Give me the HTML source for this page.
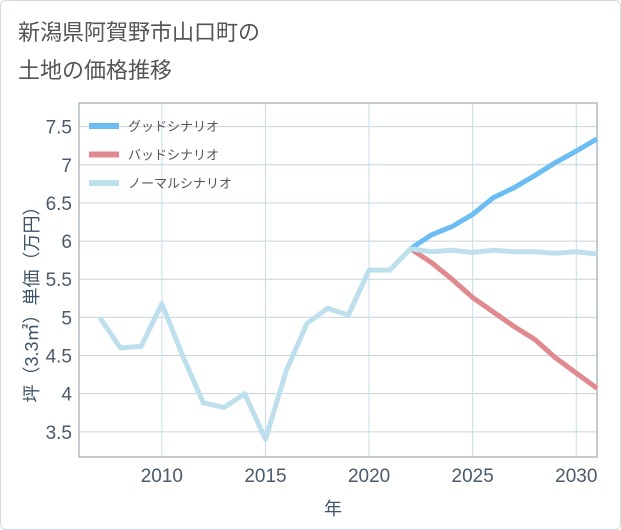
<!DOCTYPE html>
<html><head><meta charset="utf-8"><style>
body{margin:0;background:#fff;}
#card{position:absolute;left:0;top:0;width:619px;height:528px;border:1px solid #d5dbe0;border-radius:6px;background:#fff;}
#title{position:absolute;left:18px;top:14px;font:22px "Liberation Sans","Noto Sans CJK JP",sans-serif;color:#555;line-height:38px;}
svg text{font-family:"Liberation Sans","Noto Sans CJK JP",sans-serif;}
</style></head><body>
<div id="card"></div>
<div id="title">新潟県阿賀野市山口町の<br>土地の価格推移</div>
<svg id="chart" width="621" height="530" style="position:absolute;left:0;top:0"></svg>
<script>
const years=[2007,2008,2009,2010,2011,2012,2013,2014,2015,2016,2017,2018,2019,2020,2021,2022,2023,2024,2025,2026,2027,2028,2029,2030,2031];
const normalVals=[5.0,4.6,4.62,5.18,4.5,3.88,3.82,4.0,3.4,4.3,4.92,5.12,5.03,5.62,5.62,5.9,5.86,5.88,5.85,5.88,5.86,5.86,5.84,5.86,5.83];
const futureYears=[2022,2023,2024,2025,2026,2027,2028,2029,2030,2031];
const goodVals=[5.9,6.08,6.19,6.35,6.57,6.7,6.86,7.03,7.18,7.34];
const badVals=[5.9,5.72,5.5,5.26,5.07,4.88,4.71,4.47,4.27,4.07];
const yTicks=[3.5,4,4.5,5,5.5,6,6.5,7,7.5];
const xTicks=[2010,2015,2020,2025,2030];
const legendLabels=["グッドシナリオ","バッドシナリオ","ノーマルシナリオ"];
const L=79,R=597,T=103,B=457,X0=2006,X1=2031,Y0=3.17,Y1=7.81;
const sx=v=>L+(v-X0)/(X1-X0)*(R-L);
const sy=v=>B-(v-Y0)/(Y1-Y0)*(B-T);
const svg=document.getElementById('chart');const NS='http://www.w3.org/2000/svg';
function mk(tag,attrs,parent){const e=document.createElementNS(NS,tag);for(const k in attrs)e.setAttribute(k,attrs[k]);(parent||svg).appendChild(e);return e;}
for(const t of yTicks){
 const l=mk('line',{x1:L,x2:R,y1:sy(t),y2:sy(t),stroke:'#c8d4dc','stroke-width':1});
 
 
 const tx=mk('text',{x:72,y:sy(t)+7,'text-anchor':'end','font-size':19,fill:'#4a5a6a'});tx.textContent=t;
 
 
}
for(const t of xTicks){
 const l=mk('line',{x1:sx(t),x2:sx(t),y1:T,y2:B,stroke:'#c8dce8','stroke-width':1});
 
 
 const tx=mk('text',{x:sx(t),y:482,'text-anchor':'middle','font-size':19,fill:'#4a5a6a'});tx.textContent=t;
 
 
}
const frame=mk('rect',{x:L,y:T,width:R-L,height:B-T,fill:'none',stroke:'#8a9aa6','stroke-width':1});


function line(xs,ys,color,name){
 const p=mk('polyline',{points:xs.map((x,i)=>sx(x)+','+sy(ys[i])).join(' '),fill:'none',stroke:color,'stroke-width':5,'stroke-linejoin':'round'});
 
 
}
line(futureYears,goodVals,'#6bbdf4','good-scenario-line');
line(futureYears,badVals,'#e08a90','bad-scenario-line');
line(years,normalVals,'#bde0ec','normal-scenario-line');
const lc=['#6bbdf4','#e08a90','#bde0ec'];
legendLabels.forEach((s,i)=>{
 const y=126+i*28.5;
 const r=mk('rect',{x:89,y:y-3,width:30,height:6,fill:lc[i]});
 
 
 const tx=mk('text',{x:128,y:y+5,'font-size':13,fill:'#555'});tx.textContent=s;
 
 
});
const yt=mk('text',{x:0,y:0,transform:'translate(38,300) rotate(-90)','text-anchor':'middle','font-size':18,fill:'#3f5466'});yt.textContent='坪（3.3㎡）単価（万円）';


const xt=mk('text',{x:333,y:515,'text-anchor':'middle','font-size':18,fill:'#3f5466'});xt.textContent='年';


</script>
</body></html>
